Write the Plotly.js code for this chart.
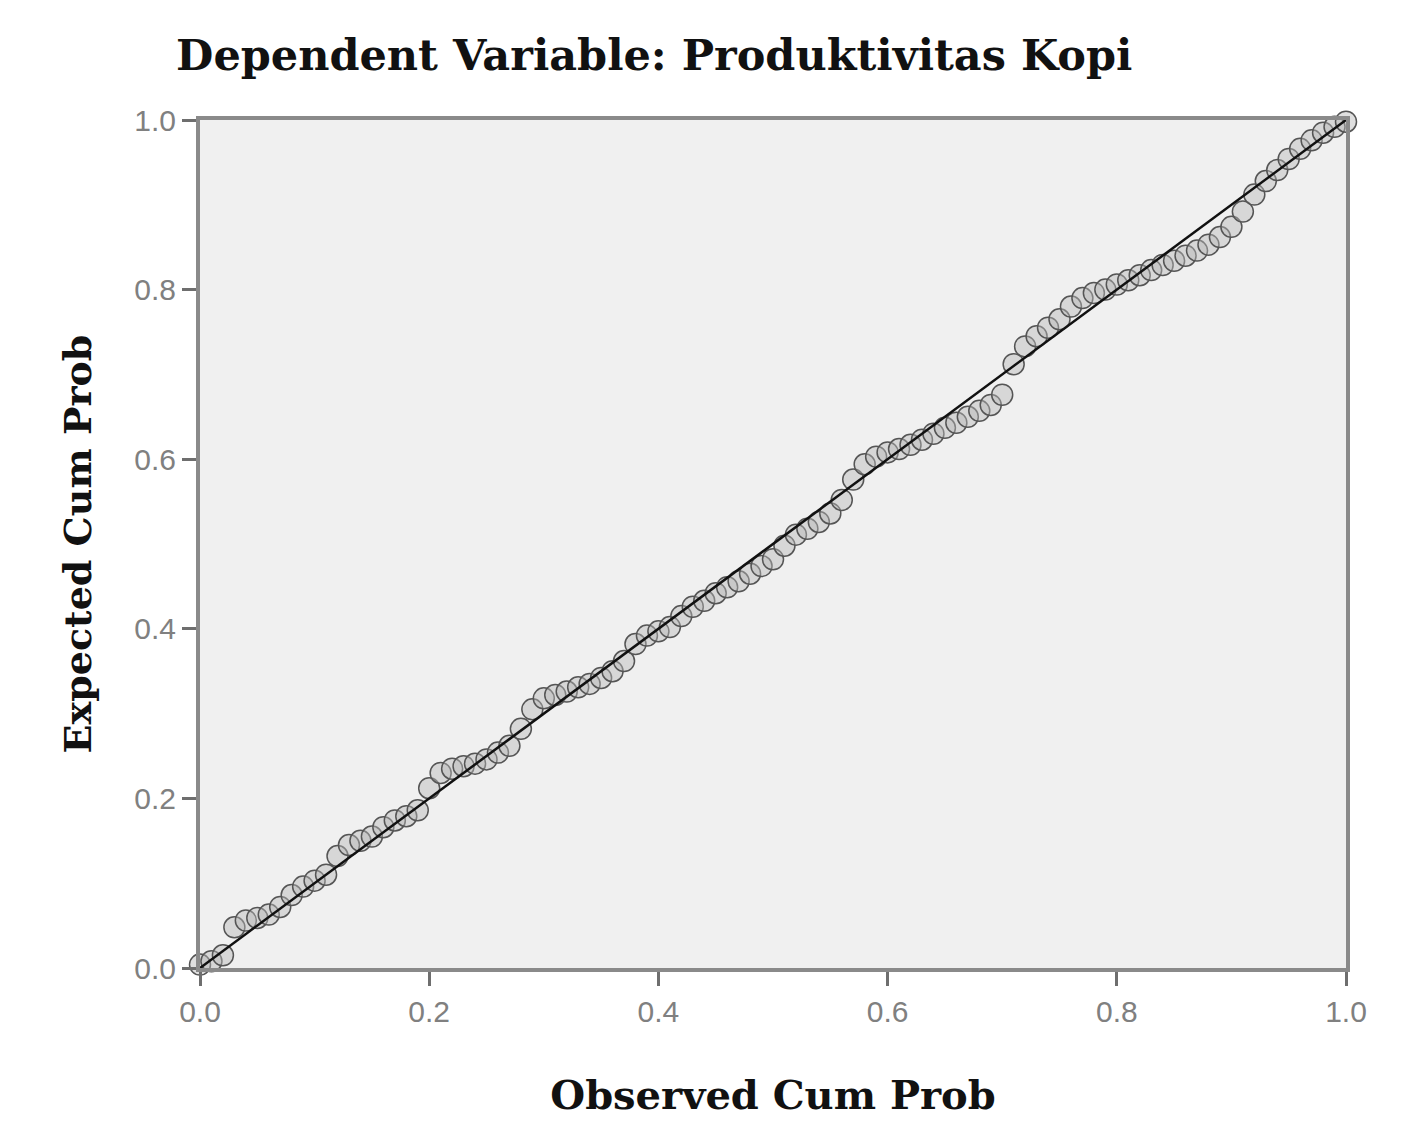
<!DOCTYPE html>
<html>
<head>
<meta charset="utf-8">
<script src="https://cdn.plot.ly/plotly-3.0.1.min.js"></script>
<style>
  body { margin: 0; background: #ffffff; }
  #pp-plot { width: 1404px; height: 1146px; }
</style>
</head>
<body>
<div id="pp-plot"></div>
<script>
// Normal P-P plot of regression standardized residual (SPSS style)

// observed cumulative probability of each case
var observedProb = [
  0.00, 0.01, 0.02, 0.03, 0.04, 0.05, 0.06, 0.07, 0.08, 0.09,
  0.10, 0.11, 0.12, 0.13, 0.14, 0.15, 0.16, 0.17, 0.18, 0.19,
  0.20, 0.21, 0.22, 0.23, 0.24, 0.25, 0.26, 0.27, 0.28, 0.29,
  0.30, 0.31, 0.32, 0.33, 0.34, 0.35, 0.36, 0.37, 0.38, 0.39,
  0.40, 0.41, 0.42, 0.43, 0.44, 0.45, 0.46, 0.47, 0.48, 0.49,
  0.50, 0.51, 0.52, 0.53, 0.54, 0.55, 0.56, 0.57, 0.58, 0.59,
  0.60, 0.61, 0.62, 0.63, 0.64, 0.65, 0.66, 0.67, 0.68, 0.69,
  0.70, 0.71, 0.72, 0.73, 0.74, 0.75, 0.76, 0.77, 0.78, 0.79,
  0.80, 0.81, 0.82, 0.83, 0.84, 0.85, 0.86, 0.87, 0.88, 0.89,
  0.90, 0.91, 0.92, 0.93, 0.94, 0.95, 0.96, 0.97, 0.98, 0.99,
  1.00
];

// expected cumulative probability under normality
var expectedProb = [
  0.004, 0.008, 0.015, 0.048, 0.056, 0.059, 0.063, 0.072, 0.086, 0.096,
  0.103, 0.110, 0.132, 0.145, 0.150, 0.155, 0.166, 0.174, 0.179, 0.186,
  0.212, 0.230, 0.235, 0.238, 0.241, 0.246, 0.254, 0.262, 0.282, 0.305,
  0.318, 0.322, 0.326, 0.331, 0.335, 0.342, 0.350, 0.362, 0.382, 0.392,
  0.397, 0.402, 0.415, 0.426, 0.433, 0.442, 0.449, 0.456, 0.465, 0.474,
  0.482, 0.498, 0.511, 0.518, 0.526, 0.536, 0.552, 0.576, 0.594, 0.603,
  0.608, 0.612, 0.617, 0.623, 0.630, 0.637, 0.643, 0.650, 0.657, 0.664,
  0.676, 0.712, 0.733, 0.745, 0.755, 0.765, 0.780, 0.790, 0.796, 0.800,
  0.806, 0.811, 0.817, 0.823, 0.829, 0.834, 0.840, 0.846, 0.853, 0.862,
  0.874, 0.892, 0.912, 0.928, 0.941, 0.954, 0.966, 0.976, 0.985, 0.992,
  0.998
];

// diagonal reference line
var refLine = [0, 1];

var tickVals = [0, 0.2, 0.4, 0.6, 0.8, 1.0];
var tickText = ["0.0", "0.2", "0.4", "0.6", "0.8", "1.0"];

var points = {
  x: observedProb,
  y: expectedProb,
  mode: "markers",
  type: "scatter",
  cliponaxis: false,
  marker: {
    symbol: "circle",
    size: 21,
    color: "rgba(185,185,185,0.45)",
    line: { color: "#555555", width: 1.5 }
  },
  hoverinfo: "x+y"
};

var diagonal = {
  x: refLine,
  y: refLine,
  mode: "lines",
  type: "scatter",
  cliponaxis: false,
  line: { color: "#111111", width: 2.5 },
  hoverinfo: "skip"
};

var axisStyle = {
  range: [0, 1],
  tickvals: tickVals,
  ticktext: tickText,
  ticks: "outside",
  ticklen: 14,
  tickwidth: 3,
  tickcolor: "#6e6e6e",
  tickfont: { family: "Liberation Sans, Arial, sans-serif", size: 30, color: "#808080" },
  showline: true,
  linecolor: "#8a8a8a",
  linewidth: 4,
  mirror: true,
  showgrid: false,
  zeroline: false,
  fixedrange: true
};

var layout = {
  width: 1404,
  height: 1146,
  paper_bgcolor: "#ffffff",
  plot_bgcolor: "#f0f0f0",
  showlegend: false,
  margin: { l: 200, r: 58, t: 120, b: 178 },
  title: {
    text: "Dependent Variable: Produktivitas Kopi",
    font: { family: "DejaVu Serif, serif", size: 43, color: "#111111", weight: "bold" },
    x: 0.466,
    xanchor: "center",
    y: 0.952,
    yanchor: "middle",
    yref: "container"
  },
  xaxis: Object.assign({}, axisStyle, {
    title: {
      text: "Observed Cum Prob",
      font: { family: "DejaVu Serif, serif", size: 40, color: "#111111", weight: "bold" },
      standoff: 55
    }
  }),
  yaxis: Object.assign({}, axisStyle, {
    title: {
      text: "Expected Cum Prob",
      font: { family: "DejaVu Serif, serif", size: 38, color: "#111111", weight: "bold" },
      standoff: 32
    }
  })
};

Plotly.newPlot("pp-plot", [points, diagonal], layout, { displayModeBar: false, staticPlot: true });
</script>
</body>
</html>
